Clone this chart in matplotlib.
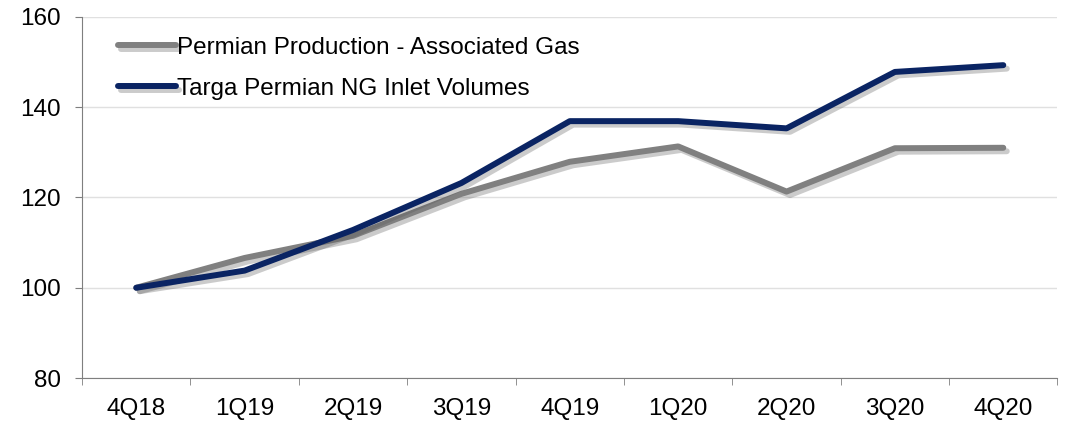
import matplotlib.pyplot as plt
import matplotlib.patheffects as pe

plt.rcParams['font.family'] = ['Liberation Sans', 'DejaVu Sans']

quarters = ['4Q18', '1Q19', '2Q19', '3Q19', '4Q19', '1Q20', '2Q20', '3Q20', '4Q20']
permian_gas = [100, 106.6, 111.5, 120.8, 127.9, 131.3, 121.3, 130.9, 131.0]
targa_inlet = [100, 103.8, 112.8, 123.2, 136.9, 136.9, 135.3, 147.8, 149.3]

fig = plt.figure(figsize=(10.66, 4.21), dpi=100)
ax = fig.add_axes([0.077, 0.102, 0.915, 0.858])

shadow = [pe.SimpleLineShadow(offset=(2.5, -2.5), shadow_color='#555555', alpha=0.3), pe.Normal()]
x = range(len(quarters))
ax.plot(x, permian_gas, color='#808080', lw=4.3, solid_capstyle='round',
        path_effects=shadow, label='Permian Production - Associated Gas', zorder=3)
ax.plot(x, targa_inlet, color='#0a2463', lw=4.3, solid_capstyle='round',
        path_effects=shadow, label='Targa Permian NG Inlet Volumes', zorder=4)

ax.set_xlim(-0.5, len(quarters) - 0.5)
ax.set_ylim(80, 160)
ax.set_yticks([80, 100, 120, 140, 160])
ax.set_xticks(list(x))
ax.set_xticklabels(quarters)
ax.set_xticks([i - 0.5 for i in range(len(quarters) + 1)], minor=True)
ax.tick_params(axis='x', which='major', length=0, pad=14, labelsize=17.5)
ax.tick_params(axis='x', which='minor', length=5, color='#7f7f7f')
ax.tick_params(axis='y', length=5, color='#7f7f7f', labelsize=17.5, pad=10)

ax.grid(axis='y', color='#e0e0e0', lw=1)
ax.set_axisbelow(True)
for s in ['top', 'right']:
    ax.spines[s].set_visible(False)
ax.spines['left'].set_color('#7f7f7f')
ax.spines['bottom'].set_color('#7f7f7f')

ax.legend(loc='upper left', frameon=False, fontsize=17.5, handlelength=2.4,
          handletextpad=0.05, bbox_to_anchor=(0.014, 1.005), labelspacing=0.78)

fig.savefig('out.png', dpi=100)
